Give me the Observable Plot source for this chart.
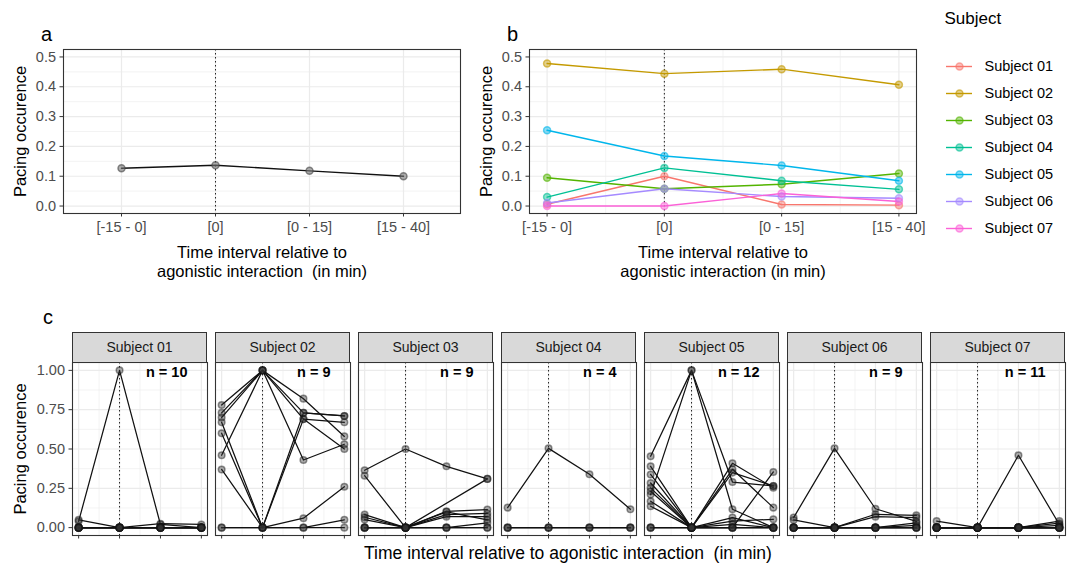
<!DOCTYPE html>
<html><head><meta charset="utf-8">
<script src="https://cdn.jsdelivr.net/npm/d3@7"></script>
<script src="https://cdn.jsdelivr.net/npm/@observablehq/plot@0.6"></script>
<style>
body{margin:0;background:#fff;}
#root{position:relative;width:1070px;height:564px;overflow:hidden;font-family:"Liberation Sans",Arial,Helvetica,sans-serif;background:#fff}
#root svg text{white-space:pre}
.abs{position:absolute}
.lab{position:absolute;font-size:20px;line-height:20px;color:#000}
.strip{position:absolute;background:#D9D9D9;border:1px solid #333;box-sizing:border-box;text-align:center;font-size:14px;color:#1A1A1A;line-height:29px}
.xt{position:absolute;font-size:17.5px;line-height:20px;text-align:center;color:#000;white-space:pre}
</style></head><body><div id="root"></div>
<script>
// ---------- data ----------
const intervals = ["[-15 - 0]", "[0]", "[0 - 15]", "[15 - 40]"];
const subjects = ["Subject 01","Subject 02","Subject 03","Subject 04","Subject 05","Subject 06","Subject 07"];
const subjectColors = ["#F8766D","#C49A00","#53B400","#00C094","#00B6EB","#A58AFF","#FB61D7"];

// panel a: overall mean
const overallMean = [0.127, 0.137, 0.118, 0.100];

// panel b: per-subject means
const meanS01 = [0.006, 0.100, 0.005, 0.003];
const meanS02 = [0.478, 0.444, 0.459, 0.407];
const meanS03 = [0.095, 0.058, 0.073, 0.109];
const meanS04 = [0.030, 0.128, 0.085, 0.056];
const meanS05 = [0.254, 0.168, 0.136, 0.085];
const meanS06 = [0.010, 0.058, 0.032, 0.026];
const meanS07 = [0.000, 0.000, 0.042, 0.015];

// panel c: individual events per subject (null = missing)
const events01 = [
  [0.04, 1.00, 0.02, 0.00],
  [0.05, 0.00, 0.025, 0.02],
  [0, 0, 0, 0],[0, 0, 0, 0],[0, 0, 0, 0],[0, 0, 0, 0],
  [0, 0, 0, 0],[0, 0, 0, 0],[0, 0, 0, 0],[0, 0, 0, 0]
];
const events02 = [
  [0.78, 1.00, 0.82, 0.58],
  [0.73, 1.00, 0.73, 0.71],
  [0.70, 1.00, 0.43, 0.53],
  [0.46, 1.00, 0.69, 0.50],
  [0.67, 0.00, 0.69, 0.67],
  [0.60, 0.00, 0.73, 0.71],
  [0.37, 0.00, 0.06, 0.26],
  [0.00, 0.00, 0.00, 0.05],
  [0.00, 0.00, 0.00, 0.00]
];
const events03 = [
  [0.365, 0.50, 0.39, 0.31],
  [0.33, 0.00, null, 0.31],
  [0.083, 0.00, 0.104, 0.115],
  [0.066, 0.00, 0.083, 0.09],
  [0.051, 0.00, 0.07, 0.07],
  [0.00, 0.00, 0.10, 0.05],
  [0.00, 0.00, 0.00, 0.03],
  [0, 0, 0, 0],[0, 0, 0, 0]
];
const events04 = [
  [0.127, 0.504, 0.339, 0.117],
  [0, 0, 0, 0],[0, 0, 0, 0],[0, 0, 0, 0]
];
const events05 = [
  [0.454, 1.00, 0.29, 0.265],
  [0.21, 1.00, 0.117, 0.00],
  [0.39, 0.00, 0.409, 0.254],
  [0.338, 0.00, 0.371, 0.127],
  [0.284, 0.00, 0.35, 0.265],
  [0.253, 0.00, 0.064, 0.00],
  [0.231, 0.00, 0.042, 0.053],
  [0.168, 0.00, 0.00, 0.354],
  [0.136, 0.00, 0.00, 0.00],
  [0.00, 0.00, 0.02, 0.00],
  [0, 0, 0, 0],[0, 0, 0, 0]
];
const events06 = [
  [0.064, 0.504, 0.12, 0.04],
  [0.049, 0.00, 0.085, 0.078],
  [0.00, 0.00, 0.07, 0.064],
  [0.00, 0.00, 0.00, 0.03],
  [0.00, 0.00, 0.00, 0.015],
  [0, 0, 0, 0],[0, 0, 0, 0],[0, 0, 0, 0],[0, 0, 0, 0]
];
const events07 = [
  [0.00, 0.00, 0.46, 0.02],
  [0.042, 0.00, 0.00, 0.042],
  [0.00, 0.00, 0.00, 0.028],
  [0.00, 0.00, 0.00, 0.015],
  [0, 0, 0, 0],[0, 0, 0, 0],[0, 0, 0, 0],[0, 0, 0, 0],
  [0, 0, 0, 0],[0, 0, 0, 0],[0, 0, 0, 0]
];
const nEvents = [10, 9, 9, 4, 12, 9, 11];

// tick / grid values
const ticksAB = [0, 0.1, 0.2, 0.3, 0.4, 0.5];
const minorAB = [0.05, 0.15, 0.25, 0.35, 0.45];
const ticksC = [0, 0.25, 0.5, 0.75, 1];
const minorC = [0.125, 0.375, 0.625, 0.875];
const xTicks = [1, 2, 3, 4];
const xMinor = [1.5, 2.5, 3.5];

// ---------- helpers ----------
const FONT = '"Liberation Sans", Arial, Helvetica, sans-serif';
const root = document.getElementById("root");
function place(el, left, top) {
  const d = document.createElement("div");
  d.className = "abs"; d.style.left = left + "px"; d.style.top = top + "px";
  d.appendChild(el); root.appendChild(d); return d;
}
function label(txt, left, top, cls) {
  const d = document.createElement("div");
  d.className = cls || "lab"; d.textContent = txt;
  d.style.left = left + "px"; d.style.top = top + "px";
  root.appendChild(d); return d;
}
const GRID = "#EBEBEB";
const baseStyle = {fontFamily: FONT, fontSize: "14.5px", background: "transparent", overflow: "visible"};
const yTitle = (dx) => Plot.text(["Pacing occurence"], {text: d => d, frameAnchor: "left", dx, rotate: -90, textAnchor: "middle", lineAnchor: "middle", fontSize: 16.5, fill: "#000"});
const xTitle2 = (t) => Plot.text([t], {text: d => d, frameAnchor: "bottom", dy: 31, textAnchor: "middle", lineAnchor: "top", lineHeight: 1.15, fontSize: 16.5, fill: "#000"});

// ---------- panel a ----------
const rowsA = intervals.map((k, i) => ({interval: k, value: overallMean[i]}));
const plotA = Plot.plot({
  width: 470, height: 290, marginLeft: 63, marginRight: 10, marginTop: 49, marginBottom: 77,
  style: baseStyle,
  x: {type: "point", domain: intervals, padding: 0.6},
  y: {domain: [-0.025, 0.525]},
  marks: [
    Plot.ruleY(minorAB, {stroke: GRID, strokeWidth: 0.6}),
    Plot.ruleY(ticksAB, {stroke: GRID, strokeWidth: 1.2}),
    Plot.ruleX(intervals, {stroke: GRID, strokeWidth: 1.2}),
    Plot.ruleX([intervals[1]], {stroke: "#222", strokeDasharray: "1.5,2.5"}),
    Plot.line(rowsA, {x: "interval", y: "value", stroke: "#111", strokeWidth: 1.4}),
    Plot.dot(rowsA, {x: "interval", y: "value", r: 3.5, fill: "#777", fillOpacity: 0.6, stroke: "#444", strokeOpacity: 0.6}),
    Plot.frame({stroke: "#333", strokeWidth: 1.1}),
    Plot.axisY({ticks: ticksAB, tickFormat: ".1f", tickSize: 3.5, tickPadding: 4, stroke: "#333", fill: "#4D4D4D", label: null}),
    Plot.axisX({tickSize: 3.5, tickPadding: 5, stroke: "#333", fill: "#4D4D4D", label: null}),
    yTitle(-43),
    xTitle2("Time interval relative to\nagonistic interaction  (in min)")
  ]
});
place(plotA, 0, 0);
label("a", 41, 24);

// ---------- panel b ----------
const meansB = [meanS01, meanS02, meanS03, meanS04, meanS05, meanS06, meanS07];
const rowsB = [];
meansB.forEach((vals, s) => vals.forEach((v, t) => rowsB.push({subject: subjects[s], t: t + 1, value: v})));
const plotB = Plot.plot({
  width: 450, height: 290, marginLeft: 59, marginRight: 4, marginTop: 49, marginBottom: 77,
  style: baseStyle,
  x: {domain: [0.85, 4.15]},
  y: {domain: [-0.025, 0.525]},
  color: {domain: subjects, range: subjectColors},
  marks: [
    Plot.ruleY(minorAB, {stroke: GRID, strokeWidth: 0.6}),
    Plot.ruleX(xMinor, {stroke: GRID, strokeWidth: 0.6}),
    Plot.ruleY(ticksAB, {stroke: GRID, strokeWidth: 1.2}),
    Plot.ruleX(xTicks, {stroke: GRID, strokeWidth: 1.2}),
    Plot.ruleX([2], {stroke: "#222", strokeDasharray: "1.5,2.5"}),
    Plot.line(rowsB, {x: "t", y: "value", z: "subject", stroke: "subject", strokeWidth: 1.4}),
    Plot.dot(rowsB, {x: "t", y: "value", r: 3.5, fill: "subject", fillOpacity: 0.45, stroke: "subject", strokeOpacity: 0.6}),
    Plot.frame({stroke: "#333", strokeWidth: 1.1}),
    Plot.axisY({ticks: ticksAB, tickFormat: ".1f", tickSize: 3.5, tickPadding: 4, stroke: "#333", fill: "#4D4D4D", label: null}),
    Plot.axisX({ticks: xTicks, tickFormat: d => intervals[d - 1], tickSize: 3.5, tickPadding: 5, stroke: "#333", fill: "#4D4D4D", label: null}),
    yTitle(-43),
    xTitle2("Time interval relative to\nagonistic interaction (in min)")
  ]
});
place(plotB, 470, 0);
label("b", 507, 24);

// ---------- legend ----------
const legend = Plot.plot({
  width: 140, height: 270, margin: 0, axis: null,
  style: {fontFamily: FONT, fontSize: "14.5px", background: "transparent", overflow: "visible"},
  x: {type: "identity"},
  y: {type: "point", domain: subjects, range: [52, 242]},
  color: {domain: subjects, range: subjectColors},
  marks: [
    Plot.ruleY(subjects, {y: d => d, x1: 16, x2: 42, stroke: d => d, strokeWidth: 1.4}),
    Plot.dot(subjects, {y: d => d, x: 29, r: 3.5, fill: d => d, fillOpacity: 0.45, stroke: d => d, strokeOpacity: 0.6}),
    Plot.text(subjects, {y: d => d, x: 54, text: d => d, textAnchor: "start", fontSize: 14.5, fill: "#000"}),
    Plot.text(["Subject"], {text: d => d, frameAnchor: "top-left", dx: 14, dy: 18, textAnchor: "start", lineAnchor: "middle", fontSize: 17, fill: "#000"})
  ]
});
place(legend, 930, 0);

// ---------- panel c ----------
label("c", 43, 307);
const facetEvents = [events01, events02, events03, events04, events05, events06, events07];
const FW = 135, FTOP = 362, FH = 173;
facetEvents.forEach((evs, i) => {
  const rows = [];
  evs.forEach((vals, e) => vals.forEach((v, t) => { if (v != null) rows.push({event: e, t: t + 1, value: v}); }));
  const fl = 72 + i * 143;
  const ml = i === 0 ? 72 : 2, mr = 2, mt = 2, mb = 12;
  const marks = [
    Plot.ruleY(minorC, {stroke: GRID, strokeWidth: 0.6}),
    Plot.ruleX(xMinor, {stroke: GRID, strokeWidth: 0.6}),
    Plot.ruleY(ticksC, {stroke: GRID, strokeWidth: 1.2}),
    Plot.ruleX(xTicks, {stroke: GRID, strokeWidth: 1.2}),
    Plot.ruleX([2], {stroke: "#222", strokeDasharray: "1.5,2.5"}),
    Plot.line(rows, {x: "t", y: "value", z: "event", stroke: "#111", strokeWidth: 1.25}),
    Plot.dot(rows, {x: "t", y: "value", r: 3.3, fill: "#333", fillOpacity: 0.4, stroke: "#111", strokeOpacity: 0.45}),
    Plot.frame({stroke: "#333", strokeWidth: 1.1}),
    Plot.text([nEvents[i]], {text: d => "n = " + d, frameAnchor: "top-right", dx: -20, dy: 10, textAnchor: "end", lineAnchor: "middle", fontWeight: "bold", fontSize: 14.5, fill: "#000"}),
    Plot.axisX({ticks: xTicks, tickFormat: () => "", tickSize: 3.5, stroke: "#333", label: null})
  ];
  if (i === 0) {
    marks.push(Plot.axisY({ticks: ticksC, tickFormat: ".2f", tickSize: 3.5, tickPadding: 4, stroke: "#333", fill: "#4D4D4D", label: null}));
    marks.push(yTitle(-52));
  } else {
    marks.push(Plot.axisY({ticks: [], label: null}));
  }
  const p = Plot.plot({
    width: FW + ml + mr, height: FH + mt + mb,
    marginLeft: ml, marginRight: mr, marginTop: mt, marginBottom: mb,
    style: baseStyle,
    x: {domain: [0.85, 4.15]},
    y: {domain: [-0.05, 1.05]},
    marks
  });
  place(p, fl - ml, FTOP - mt);
  const s = document.createElement("div");
  s.className = "strip"; s.textContent = subjects[i];
  s.style.left = fl + "px"; s.style.top = "332px"; s.style.width = FW + "px"; s.style.height = "31px";
  root.appendChild(s);
});
const xt = label("Time interval relative to agonistic interaction  (in min)", 268, 543, "xt");
xt.style.width = "600px";
</script></body></html>
